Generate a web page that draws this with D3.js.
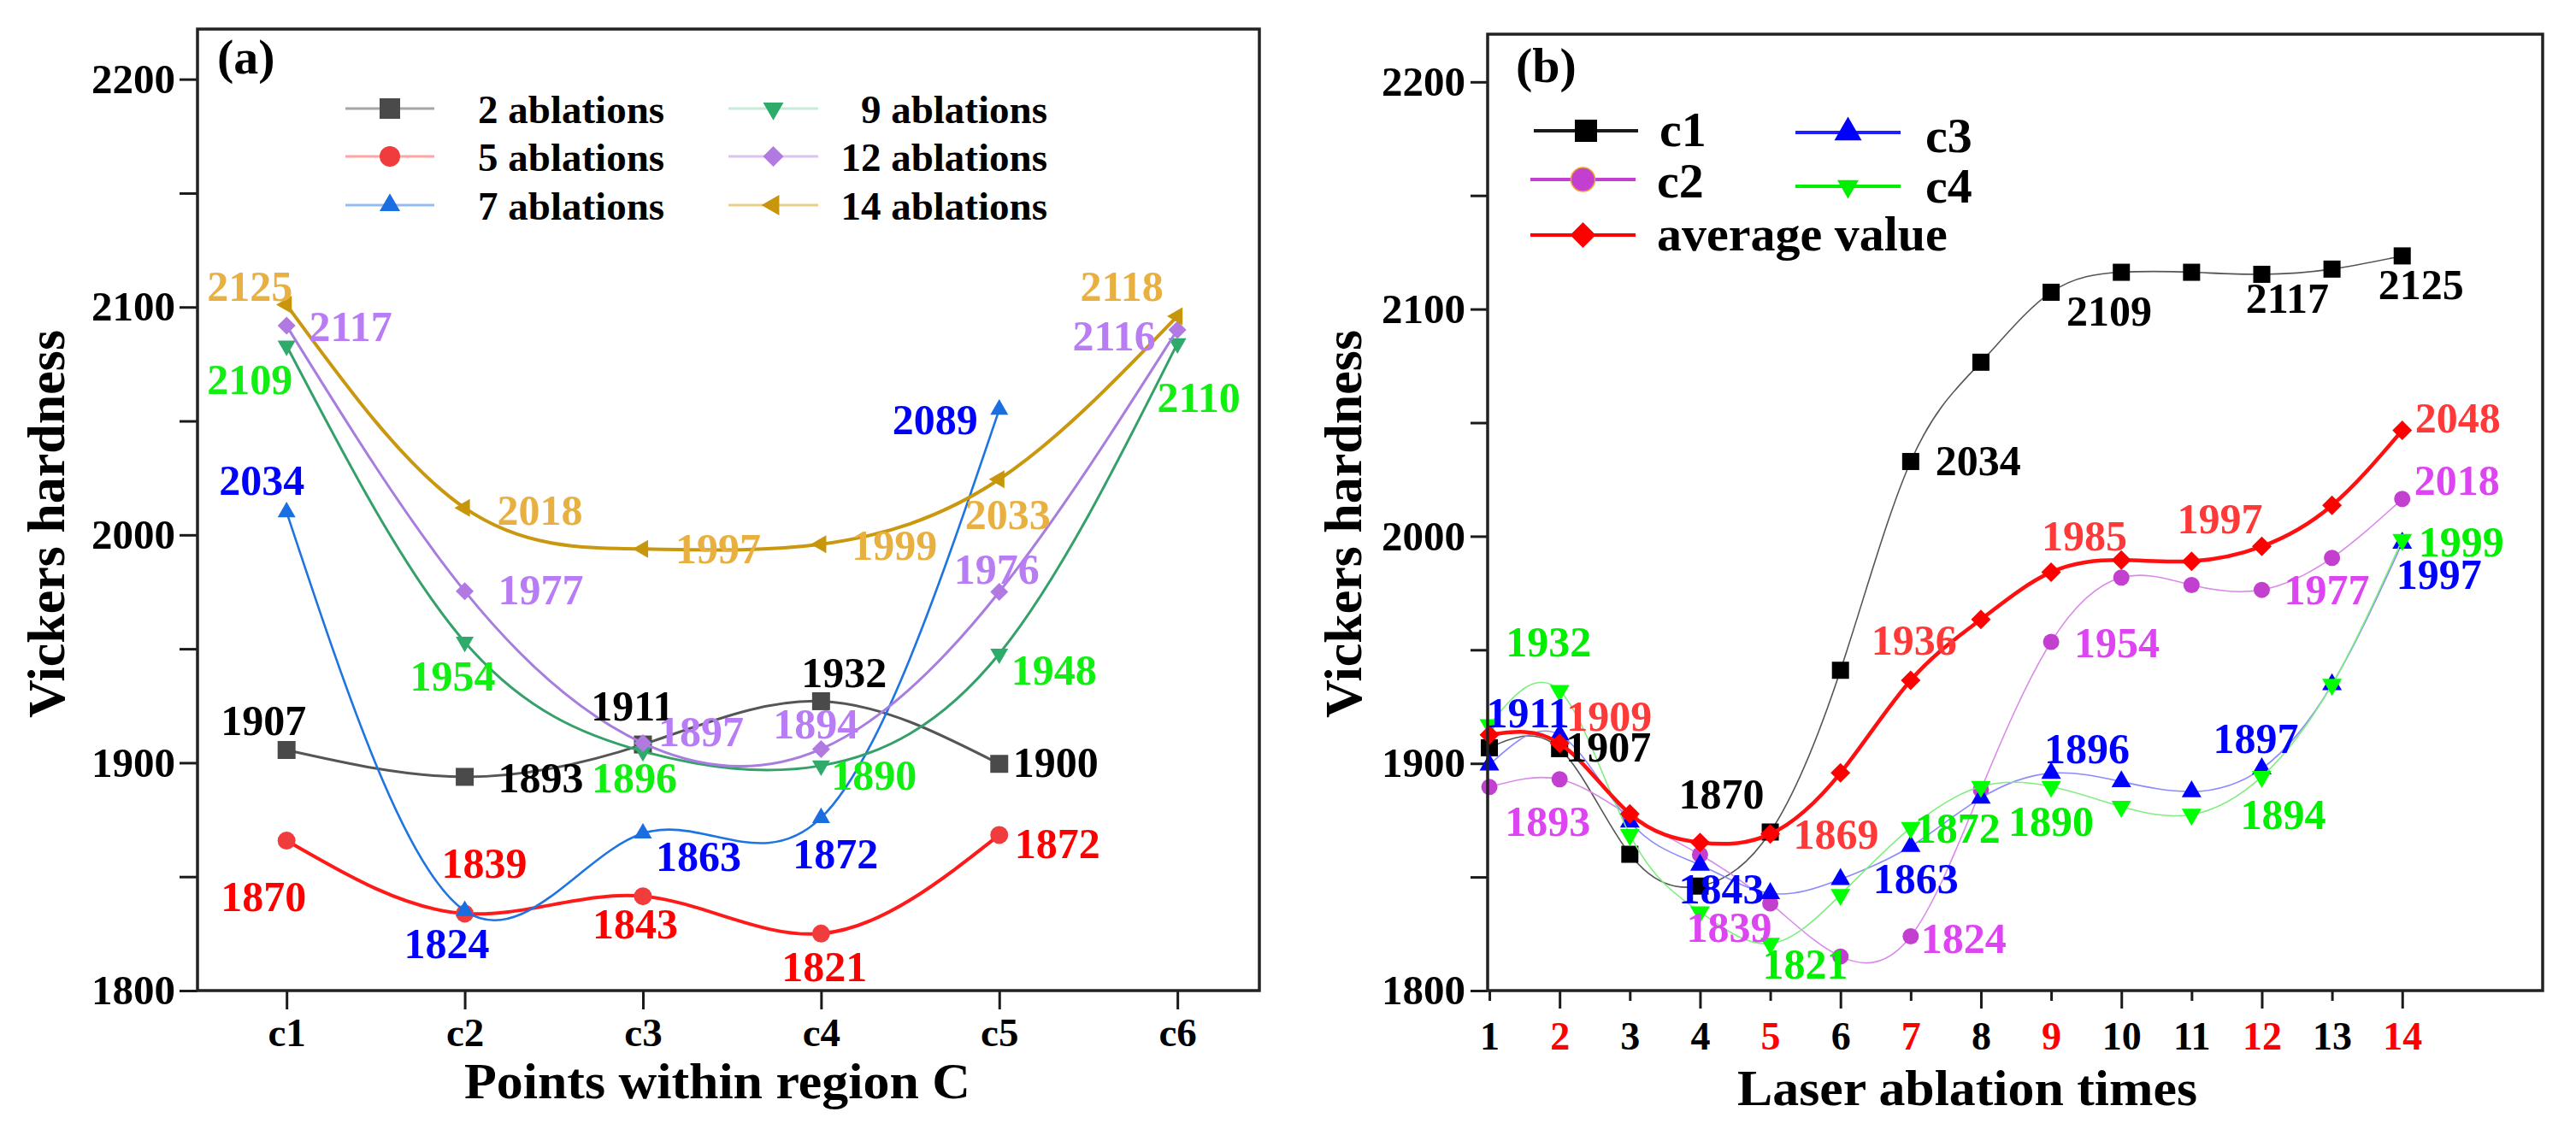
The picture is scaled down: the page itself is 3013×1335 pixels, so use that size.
<!DOCTYPE html>
<html><head><meta charset="utf-8">
<script src="https://cdn.jsdelivr.net/npm/d3@7"></script>
<style>
body{margin:0;background:#fff}
svg{display:block}
text{font-family:"Liberation Serif","Times New Roman",serif}
</style>
</head><body>
<svg id="chart" width="3013" height="1335"></svg>
<script>
// ---------------- Panel (a) data ----------------
const pointsA = ["c1", "c2", "c3", "c4", "c5", "c6"];
const seriesNamesA = ["2 ablations", "5 ablations", "7 ablations", "9 ablations", "12 ablations", "14 ablations"];
const ablation2  = [1905.6, 1893.8, 1908.0, 1927.0, 1899.5];
const ablation5  = [1865.8, 1833.8, 1841.4, 1825.0, 1868.3];
const ablation7  = [2010.0, 1835.0, 1869.0, 1875.8, 2055.0];
const ablation9  = [2083.0, 1953.0, 1905.0, 1898.7, 1947.8, 2084.0];
const ablation12 = [2091.8, 1975.3, 1908.6, 1906.0, 1975.0, 2090.0];
const ablation14 = [2101.0, 2011.8, 1993.8, 1995.9, 2024.4, 2096.0];
const labels2  = ["1907", "1893", "1911", "1932", "1900"];
const labels5  = ["1870", "1839", "1843", "1821", "1872"];
const labels7  = ["2034", "1824", "1863", "1872", "2089"];
const labels9  = ["2109", "1954", "1896", "1890", "1948", "2110"];
const labels12 = ["2117", "1977", "1897", "1894", "1976", "2116"];
const labels14 = ["2125", "2018", "1997", "1999", "2033", "2118"];

// ---------------- Panel (b) data ----------------
const ablationTimes = [1, 2, 3, 4, 5, 6, 7, 8, 9, 10, 11, 12, 13, 14];
const redTimes = [2, 5, 7, 9, 12, 14];
const seriesNamesB = ["c1", "c2", "c3", "c4", "average value"];
const hardC1  = [1906.9, 1906.5, 1860.0, 1846.0, 1869.8, 1941.0, 2032.9, 2076.6, 2107.4, 2116.2, 2116.2, 2115.3, 2117.6, 2123.4];
const hardC2  = [1889.6, 1893.0, 1877.0, 1859.8, 1838.4, 1815.0, 1823.9, 1888.4, 1953.5, 1981.8, 1978.5, 1976.4, 1990.5, 2016.4];
const hardC3  = [1899.4, 1912.6, 1874.3, 1855.3, 1842.8, 1849.0, 1863.5, 1884.8, 1895.7, 1892.0, 1887.6, 1897.7, 1934.7, 1997.0];
const hardC4  = [1917.0, 1932.0, 1868.6, 1834.6, 1820.7, 1842.2, 1871.7, 1889.8, 1889.8, 1881.0, 1877.5, 1894.2, 1934.7, 1998.5];
const hardAvg = [1912.6, 1908.8, 1877.8, 1865.2, 1868.9, 1895.8, 1936.6, 1963.4, 1984.2, 1989.5, 1989.0, 1995.5, 2013.6, 2046.6];
const labelTimesB = [2, 5, 7, 9, 12, 14];
const labelsC1  = ["1907", "1870", "2034", "2109", "2117", "2125"];
const labelsC2  = ["1893", "1839", "1824", "1954", "1977", "2018"];
const labelsC3  = ["1911", "1843", "1863", "1896", "1897", "1997"];
const labelsC4  = ["1932", "1821", "1872", "1890", "1894", "1999"];
const labelsAvg = ["1909", "1869", "1936", "1985", "1997", "2048"];

// shared axis ticks
const yTicks = [1800, 1850, 1900, 1950, 2000, 2050, 2100, 2150, 2200];

// ---------------- layout / styles (not data) ----------------
const FONT = '"Liberation Serif","Times New Roman",serif';
const offA = {
  s2:  [[-27,-17],[89,18],[-12,-28],[27,-16],[66,15]],
  s5:  [[-27,82],[23,-42],[-9,49],[4,56],[68,27]],
  s7:  [[-29,-20],[-21,55],[65,44],[17,59],[-75,29]],
  s9:  [[-43,56],[-14,57],[-10,48],[62,28],[64,36],[25,80]],
  s12: [[75,18],[89,15],[68,4],[-6,-12],[-3,-9],[-74,24]],
  s14: [[-43,-5],[88,20],[88,17],[86,18],[10,58],[-65,-18]]
};
const offB = {
  c1:  [[57,15],[-57,-27],[79,16],[68,39],[30,45],[22,51]],
  c2:  [[-14,66],[-48,45],[62,20],[77,18],[76,17],[64,-5]],
  c3:  [[-37,-9],[-57,12],[6,55],[42,-12],[-7,-18],[43,54]],
  c4:  [[-13,-40],[41,41],[55,18],[0,58],[25,61],[69,20]],
  avg: [[58,-15],[77,17],[4,-30],[39,-25],[-49,-15],[65,2]]
};

const svg = d3.select("#chart");

// symbol helpers
const diamondType = { draw(ctx, size) { const r = Math.sqrt(size / 2); ctx.moveTo(0, -r); ctx.lineTo(r, 0); ctx.lineTo(0, r); ctx.lineTo(-r, 0); ctx.closePath(); } };
function symPath(type, s) {
  if (type === "square") return d3.symbol(d3.symbolSquare, s * s)();
  if (type === "circle") return d3.symbol(d3.symbolCircle, Math.PI * s * s / 4)();
  if (type === "diamond") return d3.symbol(diamondType, s * s / 2)();
  return d3.symbol(d3.symbolTriangle, Math.sqrt(3) / 4 * s * s)();
}
function symRot(type) { return type === "down" ? 180 : type === "left" ? -90 : 0; }
function drawSymbol(g, type, s, x, y, fill, stroke, sw) {
  g.append("path").attr("d", symPath(type, s))
    .attr("transform", `translate(${x},${y}) rotate(${symRot(type)})`)
    .attr("fill", fill).attr("stroke", stroke || "none").attr("stroke-width", sw || 0);
}

function styleAxis(g, fontSize) {
  g.select(".domain").remove();
  g.selectAll(".tick line").attr("stroke", "#1a1a1a").attr("stroke-width", 3);
  g.selectAll(".tick text").attr("font-family", FONT).attr("font-weight", "bold")
    .attr("font-size", fontSize).attr("fill", "#000");
}

// ================= PANEL (a) =================
{
  const L = 231, R = 1473, T = 34, B = 1159;
  const x = d3.scaleLinear().domain([0.5, 6.46]).range([L, R]);
  const y = d3.scaleLinear().domain([1800, 2222]).range([B, T]);
  const g = svg.append("g");

  // axes
  const ya = g.append("g").attr("transform", `translate(${L},0)`)
    .call(d3.axisLeft(y).tickValues(yTicks).tickSize(21).tickPadding(5)
      .tickFormat(d => d % 100 === 0 ? d : ""));
  styleAxis(ya, 49);
  const xa = g.append("g").attr("transform", `translate(0,${B})`)
    .call(d3.axisBottom(x).tickValues([1, 2, 3, 4, 5, 6]).tickSize(22)
      .tickFormat(i => pointsA[i - 1]));
  styleAxis(xa, 47);
  xa.selectAll(".tick text").attr("y", 65).attr("dy", null);

  const series = [
    { name: seriesNamesA[0], v: ablation2,  lab: labels2,  off: offA.s2,  sym: "square",  mk: "#4a4a4a", ln: "#555555", lw: 3,   lc: "#000000", leg: "#a6a6a6" },
    { name: seriesNamesA[1], v: ablation5,  lab: labels5,  off: offA.s5,  sym: "circle",  mk: "#f03c3c", ln: "#ff1a1a", lw: 4,   lc: "#ff0000", leg: "#ffa4a4" },
    { name: seriesNamesA[2], v: ablation7,  lab: labels7,  off: offA.s7,  sym: "up",      mk: "#1a6ee0", ln: "#1e74e0", lw: 2.6, lc: "#0000ff", leg: "#92bdf3" },
    { name: seriesNamesA[3], v: ablation9,  lab: labels9,  off: offA.s9,  sym: "down",    mk: "#2eaa6a", ln: "#35a06a", lw: 3,   lc: "#11ee11", leg: "#c8ebd7" },
    { name: seriesNamesA[4], v: ablation12, lab: labels12, off: offA.s12, sym: "diamond", mk: "#b07ae0", ln: "#a87ddf", lw: 3,   lc: "#b87cf5", leg: "#dcc3f2" },
    { name: seriesNamesA[5], v: ablation14, lab: labels14, off: offA.s14, sym: "left",    mk: "#c8960a", ln: "#c9980f", lw: 4,   lc: "#e8b040", leg: "#ebcf88" }
  ];
  const line = d3.line().x((d, i) => x(i + 1)).y(d => y(d)).curve(d3.curveNatural);
  const plot = g.append("g");
  series.forEach(s => {
    plot.append("path").attr("d", line(s.v)).attr("fill", "none")
      .attr("stroke", s.ln).attr("stroke-width", s.lw);
    s.v.forEach((v, i) => drawSymbol(plot, s.sym, 21, x(i + 1), y(v), s.mk));
  });
  const labs = g.append("g");
  series.forEach(s => {
    s.v.forEach((v, i) => {
      labs.append("text").attr("x", x(i + 1) + s.off[i][0]).attr("y", y(v) + s.off[i][1])
        .attr("text-anchor", "middle").attr("font-size", 50).attr("font-weight", "bold")
        .attr("fill", s.lc).text(s.lab[i]);
    });
  });

  // legend
  const lg = g.append("g");
  const rowsY = [127, 183, 240];
  series.forEach((s, k) => {
    const col = k < 3 ? 0 : 1, row = k % 3;
    const ly = rowsY[row];
    const x0 = col === 0 ? 404 : 852, x1 = col === 0 ? 508 : 957, xm = (x0 + x1) / 2;
    lg.append("line").attr("x1", x0).attr("x2", x1).attr("y1", ly).attr("y2", ly)
      .attr("stroke", s.leg).attr("stroke-width", 3);
    drawSymbol(lg, s.sym, 24, xm, ly, s.mk);
    lg.append("text").attr("x", col === 0 ? 559 : 1225).attr("y", ly + 17)
      .attr("text-anchor", col === 0 ? "start" : "end")
      .attr("font-size", 47).attr("font-weight", "bold").attr("fill", "#000").text(s.name);
  });

  // frame
  g.append("rect").attr("x", L).attr("y", T).attr("width", R - L).attr("height", B - T)
    .attr("fill", "none").attr("stroke", "#222").attr("stroke-width", 3.5);

  g.append("text").attr("x", 254).attr("y", 86).attr("font-size", 58).attr("font-weight", "bold")
    .attr("fill", "#000").text("(a)");
  g.append("text").attr("transform", "translate(75,613) rotate(-90)").attr("text-anchor", "middle")
    .attr("font-size", 62).attr("font-weight", "bold").attr("fill", "#000").text("Vickers hardness");
  g.append("text").attr("x", 543).attr("y", 1285)
    .attr("textLength", 592).attr("lengthAdjust", "spacingAndGlyphs")
    .attr("font-size", 60).attr("font-weight", "bold").attr("fill", "#000").text("Points within region C");
}

// ================= PANEL (b) =================
{
  const L = 1740, R = 2974, T = 40, B = 1159;
  const x = d3.scaleLinear().domain([0.975, 16]).range([L, R]);
  const y = d3.scaleLinear().domain([1800, 2221]).range([B, T]);
  const g = svg.append("g");

  const ya = g.append("g").attr("transform", `translate(${L},0)`)
    .call(d3.axisLeft(y).tickValues(yTicks).tickSize(20).tickPadding(6)
      .tickFormat(d => d % 100 === 0 ? d : ""));
  styleAxis(ya, 49);
  const xa = g.append("g").attr("transform", `translate(0,${B})`)
    .call(d3.axisBottom(x).tickValues(ablationTimes).tickSize(21));
  styleAxis(xa, 46);
  xa.selectAll(".tick line").attr("y2", d => d % 2 === 0 ? 21 : 12);
  xa.selectAll(".tick text").attr("y", 69).attr("dy", null)
    .attr("fill", d => redTimes.includes(d) ? "#ff0000" : "#000");

  const series = [
    { v: hardC1,  lab: labelsC1,  off: offB.c1,  sym: "square",  s: 20, mk: "#000000", ln: "#555555", lw: 1.6, lc: "#000000" },
    { v: hardC2,  lab: labelsC2,  off: offB.c2,  sym: "circle",  s: 19, mk: "#c23fcf", ln: "#d98ae9", lw: 1.6, lc: "#dd44f2" },
    { v: hardC3,  lab: labelsC3,  off: offB.c3,  sym: "up",      s: 23, mk: "#0000ff", ln: "#8a8aff", lw: 1.6, lc: "#0000ff" },
    { v: hardC4,  lab: labelsC4,  off: offB.c4,  sym: "down",    s: 23, mk: "#00ff00", ln: "#80ee80", lw: 1.6, lc: "#00ee00" },
    { v: hardAvg, lab: labelsAvg, off: offB.avg, sym: "diamond", s: 23, mk: "#ff0000", ln: "#ff1010", lw: 4.5, lc: "#ff3838" }
  ];
  const line = d3.line().x((d, i) => x(ablationTimes[i])).y(d => y(d)).curve(d3.curveNatural);
  const plot = g.append("g");
  series.forEach(s => {
    plot.append("path").attr("d", line(s.v)).attr("fill", "none")
      .attr("stroke", s.ln).attr("stroke-width", s.lw);
    s.v.forEach((v, i) => drawSymbol(plot, s.sym, s.s, x(ablationTimes[i]), y(v), s.mk));
  });
  const labs = g.append("g");
  series.forEach(s => {
    labelTimesB.forEach((t, j) => {
      const i = ablationTimes.indexOf(t);
      labs.append("text").attr("x", x(t) + s.off[j][0]).attr("y", y(s.v[i]) + s.off[j][1])
        .attr("text-anchor", "middle").attr("font-size", 50).attr("font-weight", "bold")
        .attr("fill", s.lc).text(s.lab[j]);
    });
  });

  // legend
  const lg = g.append("g");
  const legItems = [
    { name: seriesNamesB[0], sym: "square",  s: 26, fill: "#000000", ln: "#1a1a1a", x0: 1794, x1: 1916, ly: 153, ty: 171 },
    { name: seriesNamesB[1], sym: "circle",  s: 28, fill: "#c23fcf", ln: "#c23fcf", x0: 1790, x1: 1913, ly: 210, ty: 231, st: "#f0a030" },
    { name: seriesNamesB[4], sym: "diamond", s: 30, fill: "#ff0000", ln: "#ff0000", x0: 1790, x1: 1913, ly: 275, ty: 293 },
    { name: seriesNamesB[2], sym: "up",      s: 32, fill: "#0000ff", ln: "#2020ff", x0: 2100, x1: 2223, ly: 155, ty: 178 },
    { name: seriesNamesB[3], sym: "down",    s: 25, fill: "#00ee00", ln: "#00ee00", x0: 2100, x1: 2223, ly: 218, ty: 237 }
  ];
  legItems.forEach(it => {
    lg.append("line").attr("x1", it.x0).attr("x2", it.x1).attr("y1", it.ly).attr("y2", it.ly)
      .attr("stroke", it.ln).attr("stroke-width", 4);
    drawSymbol(lg, it.sym, it.s, (it.x0 + it.x1) / 2, it.ly, it.fill, it.st, it.st ? 1.5 : 0);
    lg.append("text").attr("x", it.x1 + (it.x0 < 2000 ? 25 : 29)).attr("y", it.ty)
      .attr("font-size", 58).attr("font-weight", "bold").attr("fill", "#000").text(it.name);
  });

  g.append("rect").attr("x", L).attr("y", T).attr("width", R - L).attr("height", B - T)
    .attr("fill", "none").attr("stroke", "#222").attr("stroke-width", 3.5);

  g.append("text").attr("x", 1773).attr("y", 96).attr("font-size", 58).attr("font-weight", "bold")
    .attr("fill", "#000").text("(b)");
  g.append("text").attr("transform", "translate(1592,613) rotate(-90)").attr("text-anchor", "middle")
    .attr("font-size", 62).attr("font-weight", "bold").attr("fill", "#000").text("Vickers hardness");
  g.append("text").attr("x", 2032).attr("y", 1293)
    .attr("textLength", 538).attr("lengthAdjust", "spacingAndGlyphs")
    .attr("font-size", 60).attr("font-weight", "bold").attr("fill", "#000").text("Laser ablation times");
}
</script>
</body></html>
